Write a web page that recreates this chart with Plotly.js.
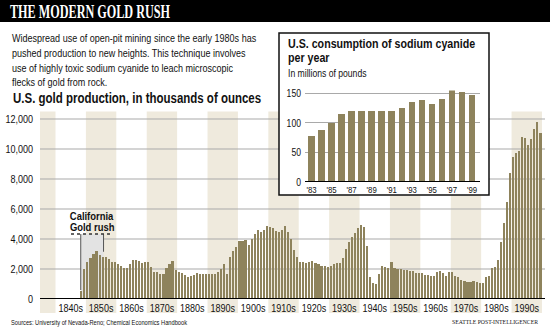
<!DOCTYPE html>
<html>
<head>
<meta charset="utf-8">
<script src="https://cdn.plot.ly/plotly-3.0.1.min.js"></script>
<style>html,body{margin:0;padding:0;background:#fff;}#chart{width:550px;height:329px;}</style>
</head>
<body>
<div id="chart"></div>
<script>
// ---------- DATA ----------
// U.S. gold production, thousands of ounces, one value per year starting 1835
const goldStartYear = 1835;
const gold1830s = [60, 50, 45, 40, 45];                       // 1835-1839
const gold1840s = [50, 55, 55, 45, 60, 70, 75, 65, 550, 2000];
const gold1850s = [2500, 2710, 3000, 3200, 2950, 2800, 2800, 2700, 2490, 2490];
const gold1860s = [2350, 2180, 2040, 2040, 2350, 2620, 2620, 2560, 2420, 2470];
const gold1870s = [2470, 2160, 1800, 1800, 1700, 1700, 2040, 2320, 2550, 1930];
const gold1880s = [1800, 1720, 1620, 1500, 1540, 1600, 1750, 1660, 1660, 1660];
const gold1890s = [1660, 1660, 1660, 1820, 2000, 2330, 1640, 2820, 3200, 3490];
const gold1900s = [3880, 3880, 3930, 3620, 4020, 4360, 4620, 4440, 4620, 4880];
const gold1910s = [4780, 4720, 4520, 4440, 4580, 4870, 4490, 4000, 3270, 2820];
const gold1920s = [2490, 2440, 2380, 2490, 2530, 2400, 2330, 2200, 2220, 2160];
const gold1930s = [2200, 2330, 2420, 2380, 2750, 3310, 3820, 4110, 4380, 4710];
const gold1940s = [4930, 4820, 3530, 1440, 1040, 1000, 1670, 2200, 2110, 2040];
const gold1950s = [2490, 2040, 1980, 2000, 1930, 1930, 1890, 1870, 1760, 1710];
const gold1960s = [1760, 1600, 1600, 1530, 1530, 1820, 1890, 1710, 1560, 1800];
const gold1970s = [1800, 1560, 1440, 1270, 1200, 1160, 1160, 1200, 1110, 1040];
const gold1980s = [1040, 1490, 1560, 2040, 2160, 2600, 3800, 5100, 6500, 8400];
const gold1990s = [9490, 9710, 9890, 10820, 10710, 10270, 10650, 11310, 11780, 11050];

const decadeLabels = ['1840s','1850s','1860s','1870s','1880s','1890s','1900s','1910s',
                      '1920s','1930s','1940s','1950s','1960s','1970s','1980s','1990s'];
const decadeStarts = [1840,1850,1860,1870,1880,1890,1900,1910,1920,1930,1940,1950,1960,1970,1980,1990];
const shadedDecades = [1830,1850,1870,1890,1910,1930,1950,1970,1990];
const goldTicks = [0, 2000, 4000, 6000, 8000, 10000, 12000];

// Sodium cyanide consumption, millions of pounds
const cyanYears = [1983,1984,1985,1986,1987,1988,1989,1990,1991,1992,1993,1994,1995,1996,1997,1998,1999];
const cyanValues = [78, 88, 100, 115, 120, 120, 120, 120, 120, 125, 135, 138, 132, 140, 155, 153, 148];
const cyanTickYears = [1983,1985,1987,1989,1991,1993,1995,1997,1999];
const cyanTickText = ["'83","'85","'87","'89","'91","'93","'95","'97","'99"];
const cyanTicks = [0, 50, 100, 150];

// ---------- BUILD ----------
const goldValues = [].concat(gold1830s, gold1840s, gold1850s, gold1860s, gold1870s, gold1880s,
  gold1890s, gold1900s, gold1910s, gold1920s, gold1930s, gold1940s, gold1950s, gold1960s,
  gold1970s, gold1980s, gold1990s);
const goldYears = goldValues.map((v, i) => goldStartYear + i);

const W = 550, H = 329;
const px = x => x / W;
const py = y => (H - y) / H;
const SANS = "'Liberation Sans', Arial, sans-serif";
const SERIF = "'Liberation Serif', 'Times New Roman', serif";
const NARROW = 0.82;           // horizontal condensing applied to sans text
const BAR = '#8e835c';
const BAND = '#efeadd';
const GRID = '#a9a9a9';

const shapes = [];
shapes.push({type:'rect', xref:'paper', yref:'paper', x0:0, x1:1, y0:py(22), y1:1,
  fillcolor:'#000', line:{width:0}, layer:'below'});
shadedDecades.forEach(d => shapes.push({type:'rect', xref:'x', yref:'paper',
  x0:d - 0.5, x1:d + 9.5, y0:py(313), y1:py(111.5), fillcolor:BAND, line:{width:0}, layer:'below'}));
goldTicks.filter(t => t > 0).forEach(t => shapes.push({type:'line', xref:'paper', yref:'y',
  x0:px(40), x1:px(545), y0:t, y1:t, line:{color:GRID, width:1}, layer:'below'}));
shapes.push({type:'rect', xref:'paper', yref:'paper', x0:px(279), x1:px(489), y0:py(195), y1:py(33),
  fillcolor:'#fff', line:{color:'#111', width:1.5}, layer:'below'});
shapes.push({type:'rect', xref:'x', yref:'y', x0:1847.8, x1:1855.3, y0:0, y1:4330,
  fillcolor:'#e3e3e3', line:{width:0}, layer:'below'});
shapes.push({type:'line', xref:'x', yref:'y', x0:1847.8, x1:1847.8, y0:600, y1:4330,
  line:{color:'#555', width:1}, layer:'above'});
shapes.push({type:'line', xref:'x', yref:'y', x0:1855.3, x1:1855.3, y0:3150, y1:4330,
  line:{color:'#555', width:1}, layer:'above'});
shapes.push({type:'line', xref:'x', yref:'y', x0:1844.6, x1:1858.2, y0:4330, y1:4330,
  line:{color:'#333', width:1.5, dash:'dot'}, layer:'above'});
shapes.push({type:'line', xref:'paper', yref:'y', x0:px(40), x1:px(545), y0:0, y1:0,
  line:{color:'#000', width:2}, layer:'above'});
shapes.push({type:'line', xref:'paper', yref:'y2', x0:px(305), x1:px(480), y0:0, y1:0,
  line:{color:'#000', width:2}, layer:'above'});

const ann = (text, x, y, size, opts) => Object.assign({
  text, x:px(x), y:py(y), xref:'paper', yref:'paper', xanchor:'left', yanchor:'middle', align:'left',
  showarrow:false, font:{family:SANS, size, color:'#111'}}, opts || {});
const bold = (size, color, family) => ({family: family || SANS, size, color: color || '#111', weight: 'bold'});

// target widths (px) for texts whose typeface is more condensed than the default factor
const targetWidths = {
  'THE MODERN GOLD RUSH': 160,
  'Sources: University of Nevada-Reno; Chemical Economics Handbook': 176,
  'SEATTLE POST-INTELLIGENCER': 86
};

const annotations = [
  ann('THE MODERN GOLD RUSH', 8, 12, 18, {font:bold(18, '#fff', SERIF)}),
  ann('Widespread use of open-pit mining since the early 1980s has', 10, 38, 11),
  ann('pushed production to new heights. This technique involves', 10, 53, 11),
  ann('use of highly toxic sodium cyanide to leach microscopic', 10, 67.5, 11),
  ann('flecks of gold from rock.', 10, 82, 11),
  ann('U.S. gold production, in thousands of ounces', 11, 98, 14, {font:bold(14)}),
  ann('U.S. consumption of sodium cyanide', 286, 43, 13, {font:bold(13)}),
  ann('per year', 286, 57.5, 13, {font:bold(13)}),
  ann('In millions of pounds', 286, 73, 10.5),
  ann('California', 91.5, 216, 11.5, {xanchor:'center', align:'center', font:bold(11.5)}),
  ann('Gold rush', 91.5, 227.5, 11.5, {xanchor:'center', align:'center', font:bold(11.5)}),
  ann('Sources: University of Nevada-Reno; Chemical Economics Handbook', 9, 322, 8),
  ann('SEATTLE POST-INTELLIGENCER', 540, 322, 7, {xanchor:'right', align:'right',
    font:{family:SERIF, size:7, color:'#111'}})
];

const traces = [
  {type:'bar', x:goldYears, y:goldValues, xaxis:'x', yaxis:'y', width:0.7,
   marker:{color:BAR, line:{width:0}}, hoverinfo:'x+y'},
  {type:'bar', x:cyanYears, y:cyanValues, xaxis:'x2', yaxis:'y2', width:0.65,
   marker:{color:BAR, line:{width:0}}, hoverinfo:'x+y'}
];

const layout = {
  width:W, height:H, margin:{l:0, r:0, t:0, b:0},
  paper_bgcolor:'#fff', plot_bgcolor:'rgba(0,0,0,0)', showlegend:false, bargap:0,
  xaxis:{domain:[px(40), px(545)], range:[1834.4, 2000.5], anchor:'y',
    tickvals:decadeStarts.map(d => d + 4.5), ticktext:decadeLabels, ticks:'', tickangle:0,
    showgrid:false, zeroline:false, showline:false, ticklabelstandoff:1,
    tickfont:{family:SANS, size:11, color:'#111'}},
  yaxis:{domain:[py(299), py(111.5)], range:[0, 12500], anchor:'x',
    tickvals:goldTicks, tickformat:',', ticks:'', showgrid:false, zeroline:false,
    showline:false, ticklabelstandoff:6, tickfont:{family:SANS, size:11, color:'#111'}},
  xaxis2:{domain:[px(305), px(480)], range:[1982.35, 1999.8], anchor:'y2',
    tickvals:cyanTickYears, ticktext:cyanTickText, ticks:'', tickangle:0, showgrid:false,
    zeroline:false, showline:false, ticklabelstandoff:0,
    tickfont:{family:SANS, size:9.5, color:'#111'}},
  yaxis2:{domain:[py(182), py(90.4)], range:[0, 155], anchor:'x2',
    tickvals:cyanTicks, ticks:'', showgrid:true, gridcolor:GRID, gridwidth:1,
    zeroline:false, showline:false, ticklabelstandoff:3,
    tickfont:{family:SANS, size:10.5, color:'#111'}},
  shapes, annotations
};

// condense text horizontally (the original uses a condensed typeface), keeping each anchor fixed
function condense(gd) {
  gd.querySelectorAll('g.annotation').forEach(g => {
    const i = +g.getAttribute('data-index');
    const a = layout.annotations[i];
    const t = g.querySelector('text.annotation-text');
    if (!a || !t) return;
    const b0 = t.getBBox();
    const w = t.getComputedTextLength();
    const target = targetWidths[a.text] || w * NARROW;
    t.setAttribute('textLength', target.toFixed(2));
    t.setAttribute('lengthAdjust', 'spacingAndGlyphs');
    const b1 = t.getBBox();
    let dx;
    if (a.xanchor === 'left') dx = b0.x - b1.x;
    else if (a.xanchor === 'right') dx = (b0.x + b0.width) - (b1.x + b1.width);
    else dx = (b0.x + b0.width / 2) - (b1.x + b1.width / 2);
    t.setAttribute('x', (parseFloat(t.getAttribute('x') || 0) + dx).toFixed(2));
    // shrink the (invisible) annotation box to the condensed text
    const b2 = t.getBBox();
    g.querySelectorAll('rect').forEach(r => {
      r.setAttribute('x', b2.x.toFixed(2));
      r.setAttribute('width', b2.width.toFixed(2));
    });
  });
  gd.querySelectorAll('g.xtick text, g.ytick text, g.x2tick text, g.y2tick text').forEach(t => {
    const w = t.getComputedTextLength();
    t.setAttribute('textLength', (w * NARROW).toFixed(2));
    t.setAttribute('lengthAdjust', 'spacingAndGlyphs');
  });
}

Plotly.newPlot('chart', traces, layout, {displayModeBar:false, staticPlot:true}).then(condense);
</script>
</body>
</html>
